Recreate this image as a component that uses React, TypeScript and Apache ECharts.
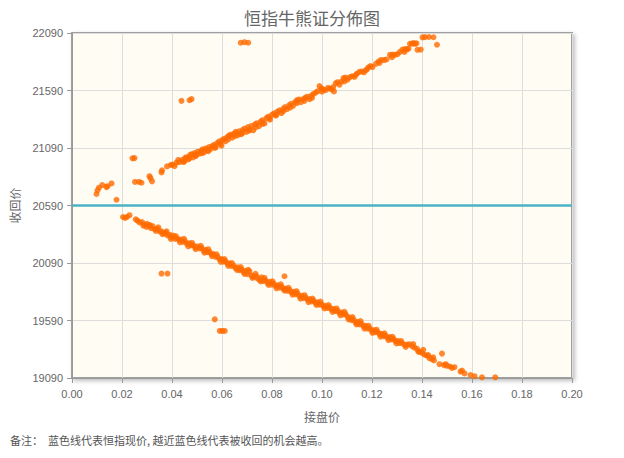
import React, { useEffect, useRef } from "react";
import * as echarts from "echarts";

const titleText = "恒指牛熊证分佈图";
const xAxisName = "接盘价";
const yAxisName = "收回价";
const noteText = "备注：  蓝色线代表恒指现价, 越近蓝色线代表被收回的机会越高。";
const spotPrice = 20590;
const yMin = 19090;
const yMax = 22090;
const yStep = 500;
const xMin = 0;
const xMax = 0.2;
const xStep = 0.02;

// 牛证 (above spot line)
const bullData: [number, number][] = [
  [0.0098, 20690], [0.0102, 20722], [0.0108, 20745], [0.0121, 20768], [0.0138, 20750], [0.0142, 20758],
  [0.0158, 20782], [0.0178, 20640], [0.0242, 21000], [0.0250, 21002], [0.0252, 20795], [0.0268, 20796],
  [0.0278, 20788], [0.0310, 20845], [0.0314, 20828], [0.0320, 20800], [0.0358, 20878], [0.0360, 20896],
  [0.0380, 20930], [0.0395, 20942], [0.0402, 20946], [0.0410, 20932], [0.0418, 20962], [0.0425, 20986],
  [0.0430, 20966], [0.0438, 21500], [0.0470, 21505], [0.0478, 21515], [0.0675, 22005], [0.0690, 22010],
  [0.0705, 22005],
  [0.0440, 20985], [0.0446, 20968], [0.0452, 21002], [0.0458, 21010], [0.0465, 20990], [0.0472, 21028],
  [0.0478, 21036], [0.0484, 21008], [0.0490, 21046], [0.0497, 21030], [0.0503, 21058], [0.0510, 21040],
  [0.0516, 21066], [0.0522, 21078], [0.0528, 21052], [0.0535, 21086], [0.0542, 21070], [0.0548, 21098],
  [0.0555, 21082], [0.0561, 21106], [0.0568, 21118], [0.0575, 21098], [0.0581, 21132], [0.0588, 21146],
  [0.0594, 21124], [0.0601, 21158], [0.0608, 21170], [0.0614, 21148], [0.0621, 21185], [0.0628, 21198],
  [0.0635, 21206], [0.0641, 21180], [0.0648, 21216], [0.0655, 21230], [0.0662, 21200], [0.0668, 21235],
  [0.0675, 21210], [0.0682, 21246], [0.0690, 21258], [0.0697, 21230], [0.0704, 21272], [0.0711, 21252],
  [0.0718, 21282], [0.0725, 21244], [0.0732, 21296], [0.0740, 21306], [0.0748, 21280], [0.0755, 21320],
  [0.0762, 21332], [0.0770, 21304], [0.0778, 21350], [0.0785, 21362], [0.0792, 21336], [0.0800, 21378],
  [0.0808, 21392], [0.0815, 21372], [0.0822, 21406], [0.0830, 21418], [0.0838, 21394], [0.0845, 21430],
  [0.0852, 21446], [0.0860, 21428], [0.0868, 21460], [0.0876, 21474], [0.0884, 21456], [0.0892, 21490],
  [0.0900, 21506], [0.0908, 21512], [0.0916, 21488], [0.0925, 21516], [0.0934, 21528], [0.0942, 21536],
  [0.0950, 21514], [0.0958, 21546], [0.0966, 21560], [0.0975, 21572], [0.0983, 21584], [0.0990, 21628],
  [0.0998, 21608], [0.1006, 21598], [0.1015, 21592], [0.1024, 21612], [0.1032, 21606], [0.1040, 21600],
  [0.1048, 21582], [0.1055, 21652], [0.1062, 21662], [0.1070, 21640], [0.1078, 21668], [0.1086, 21698],
  [0.1094, 21702], [0.1102, 21684], [0.1110, 21704], [0.1120, 21714], [0.1130, 21708], [0.1140, 21738],
  [0.1150, 21752], [0.1160, 21756], [0.1168, 21748], [0.1176, 21766], [0.1186, 21792], [0.1194, 21802],
  [0.1202, 21794], [0.1216, 21822], [0.1226, 21842], [0.1236, 21856], [0.1248, 21854], [0.1258, 21860],
  [0.1272, 21900], [0.1282, 21902], [0.1292, 21900], [0.1302, 21906], [0.1312, 21926], [0.1322, 21946],
  [0.1332, 21950], [0.1340, 21948], [0.1346, 21954], [0.1352, 21996], [0.1360, 21998], [0.1366, 22002],
  [0.1372, 21996], [0.1378, 22000], [0.1382, 21944], [0.1395, 21946], [0.1402, 22052], [0.1412, 22054],
  [0.1428, 22055], [0.1446, 22053], [0.1460, 21988],
  [0.0450, 20975], [0.0470, 21000], [0.0495, 21020], [0.0520, 21045], [0.0545, 21062], [0.0572, 21090],
  [0.0598, 21110], [0.0625, 21165], [0.0652, 21195], [0.0680, 21215], [0.0708, 21240], [0.0735, 21270],
  [0.0762, 21300], [0.0790, 21350], [0.0818, 21380], [0.0845, 21410], [0.0872, 21440], [0.0900, 21480],
  [0.0930, 21500], [0.0960, 21525], [0.1000, 21580], [0.1045, 21620], [0.1090, 21670], [0.1135, 21725],
  [0.1180, 21775], [0.1230, 21830], [0.1280, 21880], [0.1330, 21925],
];

// 熊证 (below spot line)
const bearData: [number, number][] = [
  [0.0204, 20490], [0.0212, 20482], [0.0220, 20490], [0.0230, 20506], [0.0262, 20458], [0.0270, 20442],
  [0.0280, 20446], [0.0290, 20424], [0.0298, 20404], [0.0300, 20430], [0.0308, 20412], [0.0316, 20392],
  [0.0322, 20410], [0.0330, 20384], [0.0340, 20386], [0.0350, 20364], [0.0358, 20366], [0.0366, 20348],
  [0.0374, 20352], [0.0382, 20330], [0.0390, 20336], [0.0398, 20312], [0.0404, 20328], [0.0412, 20300],
  [0.0420, 20306], [0.0428, 20292], [0.0436, 20294], [0.0444, 20274], [0.0452, 20278], [0.0460, 20256],
  [0.0468, 20262], [0.0476, 20244], [0.0484, 20246], [0.0492, 20228], [0.0500, 20234], [0.0510, 20216],
  [0.0518, 20222], [0.0526, 20198], [0.0534, 20204], [0.0542, 20184], [0.0550, 20186], [0.0558, 20166],
  [0.0566, 20168], [0.0574, 20144], [0.0582, 20146], [0.0590, 20122], [0.0598, 20124], [0.0606, 20102],
  [0.0614, 20106], [0.0622, 20084], [0.0630, 20088], [0.0638, 20064], [0.0646, 20068], [0.0654, 20046],
  [0.0662, 20052], [0.0670, 20028], [0.0678, 20034], [0.0686, 20012], [0.0694, 20022], [0.0702, 19992],
  [0.0710, 20018], [0.0718, 19980], [0.0726, 19972], [0.0734, 19996], [0.0742, 19956], [0.0750, 19944],
  [0.0758, 19966], [0.0766, 19934], [0.0774, 19940], [0.0782, 19918], [0.0790, 19926], [0.0798, 19902],
  [0.0806, 19912], [0.0814, 19892], [0.0822, 19896], [0.0830, 19876], [0.0838, 19884], [0.0846, 19864],
  [0.0854, 19868], [0.0862, 19848], [0.0870, 19856], [0.0878, 19834], [0.0886, 19840], [0.0894, 19818],
  [0.0902, 19826], [0.0910, 19800], [0.0918, 19806], [0.0926, 19784], [0.0934, 19792], [0.0942, 19772],
  [0.0950, 19776], [0.0958, 19756], [0.0966, 19762], [0.0974, 19744], [0.0982, 19748], [0.0990, 19728],
  [0.0998, 19732], [0.1006, 19714], [0.1014, 19718], [0.1022, 19698], [0.1030, 19706], [0.1038, 19686],
  [0.1046, 19690], [0.1054, 19672], [0.1062, 19676], [0.1070, 19656], [0.1078, 19660], [0.1086, 19642],
  [0.1094, 19646], [0.1102, 19624], [0.1110, 19614], [0.1118, 19592], [0.1126, 19598], [0.1134, 19574],
  [0.1142, 19578], [0.1150, 19556], [0.1158, 19562], [0.1166, 19540], [0.1174, 19544], [0.1182, 19520],
  [0.1190, 19524], [0.1198, 19504], [0.1206, 19506], [0.1214, 19488], [0.1222, 19492], [0.1230, 19472],
  [0.1238, 19474], [0.1246, 19454], [0.1254, 19458], [0.1262, 19440], [0.1270, 19446], [0.1278, 19426],
  [0.1286, 19430], [0.1294, 19410], [0.1302, 19412], [0.1310, 19394], [0.1320, 19396], [0.1330, 19378],
  [0.1340, 19380], [0.1350, 19384], [0.1360, 19366], [0.1370, 19354], [0.1380, 19344], [0.1390, 19318],
  [0.1400, 19308], [0.1410, 19292], [0.1420, 19284], [0.1430, 19262], [0.1440, 19254], [0.1448, 19242],
  [0.1470, 19210], [0.1480, 19302], [0.1488, 19202], [0.1500, 19196], [0.1512, 19190], [0.1530, 19184],
  [0.1554, 19146], [0.1570, 19130], [0.1594, 19116], [0.1610, 19106], [0.1640, 19096], [0.1693, 19096],
  [0.0358, 19998], [0.0382, 19998], [0.0571, 19600], [0.0591, 19499], [0.0601, 19499], [0.0611, 19499],
  [0.0850, 19975],
  [0.0255, 20470], [0.0285, 20415], [0.0312, 20420], [0.0335, 20370], [0.0345, 20400], [0.0362, 20340],
  [0.0378, 20365], [0.0395, 20300], [0.0415, 20325], [0.0432, 20270], [0.0448, 20300], [0.0465, 20235],
  [0.0480, 20265], [0.0495, 20210], [0.0515, 20240], [0.0530, 20180], [0.0545, 20210], [0.0560, 20150],
  [0.0578, 20165], [0.0595, 20100], [0.0610, 20125], [0.0625, 20065], [0.0640, 20090], [0.0660, 20030],
  [0.0675, 20055], [0.0690, 19995], [0.0705, 20030], [0.0722, 19960], [0.0738, 19975], [0.0755, 19930],
  [0.0770, 19960], [0.0786, 19900], [0.0802, 19930], [0.0818, 19870], [0.0835, 19905], [0.0850, 19850],
  [0.0866, 19875], [0.0882, 19815], [0.0898, 19845], [0.0914, 19780], [0.0930, 19810], [0.0946, 19750],
  [0.0962, 19780], [0.0978, 19725], [0.0994, 19755], [0.1010, 19695], [0.1026, 19725], [0.1042, 19665],
  [0.1058, 19695], [0.1074, 19635], [0.1090, 19665], [0.1106, 19600], [0.1122, 19620], [0.1138, 19555],
  [0.1154, 19585], [0.1170, 19520], [0.1186, 19545], [0.1202, 19482], [0.1218, 19510], [0.1234, 19450],
  [0.1250, 19478], [0.1266, 19420], [0.1282, 19448], [0.1298, 19390], [0.1316, 19412], [0.1335, 19360],
  [0.1365, 19385], [0.1385, 19320], [0.1405, 19335], [0.1425, 19290], [0.1445, 19270], [0.1495, 19210],
  [0.1520, 19178], [0.1560, 19155],
];

const FONT = "Liberation Sans, Noto Sans CJK SC, sans-serif";

export default function App() {
  const ref = useRef<HTMLDivElement>(null);
  useEffect(() => {
    document.body.style.margin = "0";
    if (!ref.current) return;
    const chart = echarts.init(ref.current, null, { renderer: "svg" });
    chart.setOption({
      animation: false,
      backgroundColor: "#ffffff",
      textStyle: { fontFamily: FONT },
      title: {
        text: titleText,
        left: "center",
        top: 4,
        textStyle: { fontSize: 17, fontWeight: "normal", color: "#666", fontFamily: "Noto Sans CJK SC" },
      },
      grid: {
        left: 70,
        right: 52,
        top: 33,
        bottom: 80,
        show: true,
        backgroundColor: "#fffcf4",
        borderColor: "#a0a0a0",
        borderWidth: 2,
        shadowColor: "rgba(0,0,0,0.25)",
        shadowBlur: 4,
        shadowOffsetX: 2,
        shadowOffsetY: 2,
      },
      xAxis: {
        type: "value",
        min: xMin,
        max: xMax,
        interval: xStep,
        name: xAxisName,
        nameLocation: "middle",
        nameGap: 32,
        nameTextStyle: { fontSize: 12, color: "#666", fontFamily: "Noto Sans CJK SC" },
        axisLine: { show: true, lineStyle: { color: "#999" } },
        axisTick: { show: true, length: 5, lineStyle: { color: "#999" } },
        axisLabel: { fontSize: 11, color: "#666", margin: 10, formatter: (v: number) => v.toFixed(2) },
        splitLine: { show: true, lineStyle: { color: "#ddd" } },
      },
      yAxis: {
        type: "value",
        min: yMin,
        max: yMax,
        interval: yStep,
        name: yAxisName,
        nameLocation: "middle",
        nameGap: 52,
        nameRotate: 90,
        nameTextStyle: { fontSize: 12, color: "#666", fontFamily: "Noto Sans CJK SC" },
        axisLine: { show: true, lineStyle: { color: "#999" } },
        axisTick: { show: true, length: 5, lineStyle: { color: "#999" } },
        axisLabel: { fontSize: 11, color: "#666", margin: 9, formatter: (v: number) => String(Math.round(v)) },
        splitLine: { show: true, lineStyle: { color: "#ddd" } },
      },
      graphic: [
        {
          type: "text",
          left: 10,
          top: 434,
          style: { text: noteText, fontSize: 11, fill: "#555", fontFamily: "Noto Sans CJK SC" },
        },
      ],
      series: [
        {
          type: "scatter",
          name: "牛证",
          data: bullData,
          symbolSize: 6,
          itemStyle: { color: "#ff6a00" },
          markLine: {
            silent: true,
            symbol: "none",
            label: { show: false },
            lineStyle: { color: "#4ab3c6", width: 2.5, type: "solid" },
            data: [{ yAxis: spotPrice }],
          },
        },
        {
          type: "scatter",
          name: "熊证",
          data: bearData,
          symbolSize: 6,
          itemStyle: { color: "#ff6a00" },
        },
      ],
    });
    return () => chart.dispose();
  }, []);
  return <div ref={ref} style={{ width: 624, height: 458 }} />;
}
